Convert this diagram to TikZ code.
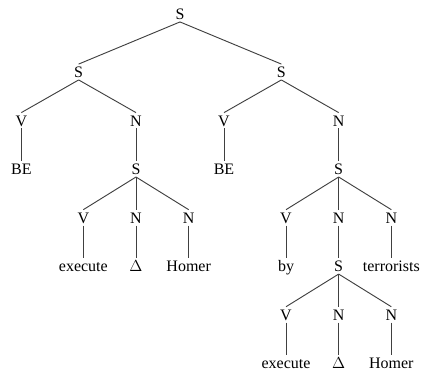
\documentclass[tikz,border=0pt]{standalone}
\usepackage{fontspec}
\setmainfont{Liberation Serif}
\usepackage{tikz}
\usetikzlibrary{positioning}
\colorlet{colorBranch}{black!75}
\tikzset{cat/.style={inner sep=1.5pt, text height=8.5pt, text depth=0pt, font=\fontsize{12}{14}\selectfont}}
\tikzset{branch/.style={colorBranch, line width=0.7pt}}

\begin{document}
\begin{tikzpicture}[on grid, node distance=36.4pt]
\useasboundingbox (0,0) rectangle (316.5pt,-282pt);
\node[cat] (root) at (135pt,-10.5pt) {S};
\node[cat, below left=43.5pt and 76pt of root] (sL) {S};
\node[cat, below right=43.5pt and 76pt of root] (sR) {S};
% left half
\node[cat, below left=36.4pt and 43pt of sL] (vL) {V};
\node[cat, below right=36.4pt and 43pt of sL] (nL) {N};
\node[cat, below=of vL] (beL) {BE};
\node[cat, below=of nL] (sLL) {S};
\node[cat, below left=36.4pt and 39.5pt of sLL] (vLL) {V};
\node[cat, below=of sLL] (nLM) {N};
\node[cat, below right=36.4pt and 39.5pt of sLL] (nLR) {N};
\node[cat, below=of vLL] (exL) {execute};
\node[cat, below=of nLM] (dL) {$\Delta$};
\node[cat, below=of nLR] (hL) {Homer};
% right half
\node[cat, below left=36.4pt and 43pt of sR] (vR) {V};
\node[cat, below right=36.4pt and 43pt of sR] (nR) {N};
\node[cat, below=of vR] (beR) {BE};
\node[cat, below=of nR] (sRR) {S};
\node[cat, below left=36.4pt and 39.5pt of sRR] (vRR) {V};
\node[cat, below=of sRR] (nRM) {N};
\node[cat, below right=36.4pt and 39.5pt of sRR] (nRR) {N};
\node[cat, below=of vRR] (by) {by};
\node[cat, below=of nRM] (sPas) {S};
\node[cat, below=of nRR] (terr) {terrorists};
\node[cat, below left=36.4pt and 39.5pt of sPas] (vPas) {V};
\node[cat, below=of sPas] (nPasM) {N};
\node[cat, below right=36.4pt and 39.5pt of sPas] (nPasR) {N};
\node[cat, below=of vPas] (exR) {execute};
\node[cat, below=of nPasM] (dR) {$\Delta$};
\node[cat, below=of nPasR] (hR) {Homer};

\draw [branch] (root.south) -- (sL.north);
\draw [branch] (root.south) -- (sR.north);
\draw [branch] (sL.south) -- (vL.north);
\draw [branch] (sL.south) -- (nL.north);
\draw [branch] (vL.south) -- (beL.north);
\draw [branch] (nL.south) -- (sLL.north);
\draw [branch] (sLL.south) -- (vLL.north);
\draw [branch] (sLL.south) -- (nLM.north);
\draw [branch] (sLL.south) -- (nLR.north);
\draw [branch] (vLL.south) -- (exL.north);
\draw [branch] (nLM.south) -- (dL.north);
\draw [branch] (nLR.south) -- (hL.north);
\draw [branch] (sR.south) -- (vR.north);
\draw [branch] (sR.south) -- (nR.north);
\draw [branch] (vR.south) -- (beR.north);
\draw [branch] (nR.south) -- (sRR.north);
\draw [branch] (sRR.south) -- (vRR.north);
\draw [branch] (sRR.south) -- (nRM.north);
\draw [branch] (sRR.south) -- (nRR.north);
\draw [branch] (vRR.south) -- (by.north);
\draw [branch] (nRM.south) -- (sPas.north);
\draw [branch] (nRR.south) -- (terr.north);
\draw [branch] (sPas.south) -- (vPas.north);
\draw [branch] (sPas.south) -- (nPasM.north);
\draw [branch] (sPas.south) -- (nPasR.north);
\draw [branch] (vPas.south) -- (exR.north);
\draw [branch] (nPasM.south) -- (dR.north);
\draw [branch] (nPasR.south) -- (hR.north);
\end{tikzpicture}
\end{document}
